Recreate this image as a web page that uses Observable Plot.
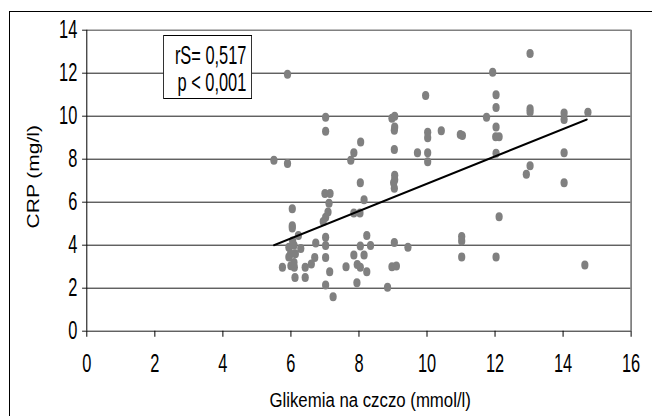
<!DOCTYPE html>
<html><head><meta charset="utf-8">
<script src="https://cdn.jsdelivr.net/npm/d3@7"></script>
<script src="https://cdn.jsdelivr.net/npm/@observablehq/plot@0.6"></script>
<style>
html,body{margin:0;padding:0;background:#fff;}
#wrap{position:relative;width:652px;height:416px;overflow:hidden;background:#fff;}
#frame{position:absolute;left:9px;top:11px;width:700px;height:500px;border-left:1px solid #000;border-top:1px solid #000;box-sizing:border-box;}
#chart{position:absolute;left:0;top:0;width:815px;height:416px;transform:scaleX(0.8);transform-origin:0 0;}
#stats{position:absolute;left:203.75px;top:34.5px;width:111.25px;height:64px;border-style:solid;border-color:#000;border-width:1px 1.25px;background:#fff;box-sizing:border-box;font-family:"Liberation Sans",Arial,sans-serif;font-size:25px;color:#000;}
#stats div{position:absolute;right:6px;line-height:28px;white-space:nowrap;transform:scaleX(0.82);transform-origin:100% 50%;}
</style></head>
<body>
<div id="wrap"><div id="frame"></div><div id="chart"></div></div>
<script>
const glikemia = [5.5,5.9,5.9,5.75,6.04,6.04,6.04,6.22,5.94,6.09,5.99,6.13,5.94,6.09,6.29,6.0,6.1,6.12,6.42,6.42,6.6,6.7,6.73,6.05,
7.02,7.02,7.0,7.15,7.12,7.09,7.02,6.95,7.02,7.02,7.02,7.14,7.02,7.24,7.62,7.76,7.85,8.05,8.04,8.15,7.85,8.03,8.23,8.04,8.34,7.85,8.15,7.95,8.04,8.23,7.94,8.84,
8.97,9.05,9.05,9.04,9.04,9.05,9.05,9.02,9.04,9.04,8.97,9.1,9.44,9.72,9.96,10.02,10.02,10.02,10.02,10.42,10.98,11.04,11.02,11.02,11.02,
11.75,11.93,12.03,12.03,12.03,12.02,12.12,12.03,12.12,12.03,12.92,13.03,13.03,13.03,13.03,14.03,14.03,14.03,14.03,14.64,14.73];
const crp = [7.95,11.95,7.8,2.97,5.7,4.9,4.8,4.45,3.9,4.0,3.6,3.6,3.45,3.2,3.85,3.05,2.98,2.5,2.98,2.5,3.13,3.43,4.1,4.2,
9.95,9.3,6.4,6.4,5.95,5.55,5.3,5.1,4.37,3.99,3.43,2.77,2.15,1.6,3.0,7.95,8.3,8.8,6.9,6.11,5.5,5.5,4.45,3.96,3.99,3.55,3.55,3.1,2.98,2.76,2.25,2.05,
9.9,10.0,9.5,9.35,8.45,7.25,7.05,6.9,6.65,4.13,3.0,3.03,3.91,8.3,10.96,9.25,9.0,8.3,7.88,9.32,9.15,9.1,4.4,4.2,3.45,
9.95,12.05,11.0,10.4,9.5,9.05,9.05,8.28,5.32,3.45,7.3,12.92,10.35,10.2,7.7,10.15,9.85,8.3,6.9,3.08,10.18];
const trendX = [5.5, 14.7];
const trendY = [4.0, 9.85];
const xTicks = [0,2,4,6,8,10,12,14,16];
const yTicks = [0,2,4,6,8,10,12,14];
const gridY = [2,4,6,8,10,12];
const xLabel = "Glikemia na czczo (mmol/l)";
const yLabel = "CRP (mg/l)";
const statsLines = ["rS= 0,517", "p < 0,001"];

const points = glikemia.map((g, i) => ({g, c: crp[i]}));
const trend = trendX.map((x, i) => ({x, y: trendY[i]}));

const chart = Plot.plot({
  width: 815, height: 416,
  marginLeft: 108, marginRight: 26.6, marginTop: 29.7, marginBottom: 85.3,
  x: {domain: [0, 16]},
  y: {domain: [0, 14]},
  style: {background: "transparent", color: "#000", fontFamily: "'Liberation Sans',Arial,sans-serif", overflow: "visible"},
  marks: [
    Plot.ruleY(gridY, {stroke: "#000", strokeWidth: 1}),
    Plot.ruleY([yTicks[yTicks.length - 1]], {stroke: "#808080", strokeWidth: 1.5}),
    Plot.ruleX([xTicks[xTicks.length - 1]], {stroke: "#808080", strokeWidth: 2.2}),
    Plot.dot(points, {x: "g", y: "c", r: 4.5, fill: "#808080", stroke: "none"}),
    Plot.line(trend, {x: "x", y: "y", stroke: "#000", strokeWidth: 2}),
    Plot.axisX({ticks: xTicks, tickSize: 6, tickPadding: 17, fontSize: 25, label: null, strokeWidth: 1.25}),
    Plot.axisY({ticks: yTicks, tickSize: 5.4, tickPadding: 6.5, fontSize: 25, label: null, strokeWidth: 1}),
    Plot.ruleX([xTicks[0]], {stroke: "#000", strokeWidth: 1.25}),
    Plot.ruleY([yTicks[0]], {stroke: "#000", strokeWidth: 1}),
    Plot.text([xLabel], {frameAnchor: "bottom", textAnchor: "middle", lineAnchor: "middle", dx: 14, dy: 69, fontSize: 21}),
    Plot.text([yLabel], {frameAnchor: "left", textAnchor: "middle", lineAnchor: "middle", dx: -66, dy: -4, rotate: -90, fontSize: 21})
  ]
});
const holder = document.getElementById("chart");
holder.appendChild(chart);
// condense the tick labels horizontally, as in the reference
chart.querySelectorAll('[aria-label="x-axis tick label"] text, [aria-label="y-axis tick label"] text').forEach(t => {
  const len = t.getComputedTextLength();
  t.setAttribute("textLength", (len * 0.82).toFixed(2));
  t.setAttribute("lengthAdjust", "spacingAndGlyphs");
});
const stats = document.createElement("div");
stats.id = "stats";
statsLines.forEach((t, i) => {
  const d = document.createElement("div");
  d.textContent = t;
  d.style.top = (5.1 + i * 27) + "px";
  stats.appendChild(d);
});
holder.appendChild(stats);
</script>
</body></html>
